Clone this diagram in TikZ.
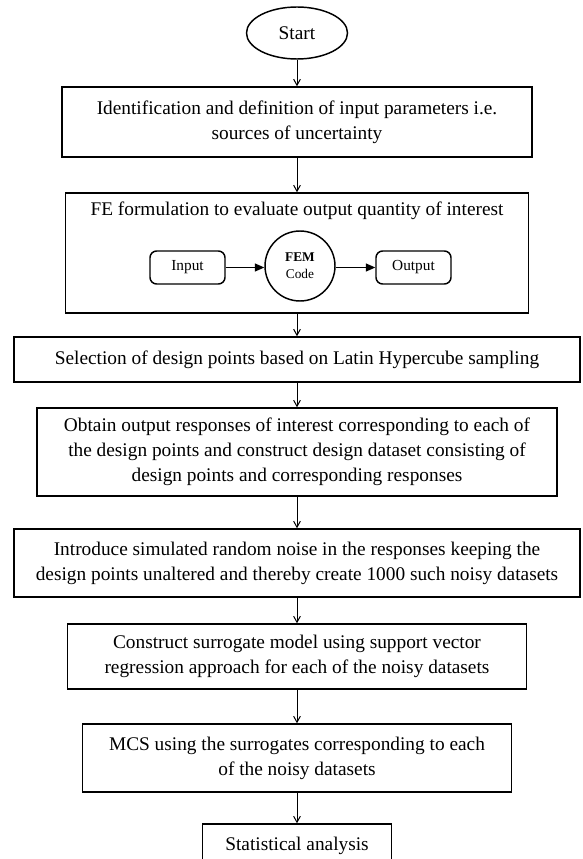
\documentclass[tikz,border=0pt]{standalone}
\usepackage{fontspec}
\setmainfont{Liberation Serif}
\usetikzlibrary{arrows.meta,shapes.geometric}

\tikzset{every picture/.style={line width=0.75pt}}
\newcommand\mainsize{\fontsize{14.5}{18.75}\selectfont}
\newcommand\innersize{\fontsize{11.5}{13}\selectfont}
\newcommand\femsize{\fontsize{10}{12.5}\selectfont}
\tikzset{
  stepbox/.style={draw, rectangle, line width=1.1pt, align=center, inner sep=0.75pt, font=\mainsize},
  startoval/.style={draw, ellipse, line width=1.1pt, inner sep=0.75pt, font=\mainsize},
  ioblock/.style={draw, rectangle, rounded corners=5pt, line width=1.1pt, inner sep=0.75pt, font=\innersize, minimum width=56.25pt, minimum height=24.75pt},
  femcircle/.style={draw, circle, line width=1.1pt, inner sep=0.75pt, align=center, font=\femsize, minimum size=52.5pt},
  flowarrow/.style={-{Straight Barb[length=4.5pt,width=5pt]}},
  innerarrow/.style={-{Triangle[length=7pt,width=6pt]}}
}

\begin{document}
\begin{tikzpicture}[x=0.75pt,y=0.75pt,yscale=-1,xscale=1]
		\useasboundingbox (0,0) rectangle (582,859);

		%Shape: Ellipse [id:start]
		\node [startoval, minimum width=75.75pt, minimum height=39pt] (start) at (297,33) {Start};
		%Shape: Rectangle [id:ident]
		\node [stepbox, minimum width=352.5pt, minimum height=52.5pt] (ident) at (297,122) {Identification and definition of input parameters i.e.\\sources of uncertainty};
		%Shape: Rectangle [id:fe]
		\node [stepbox, minimum width=347.25pt, minimum height=90pt] (fe) at (297,253) {};
		% Text Node
		\node [font=\mainsize, inner sep=0.75pt] (fetitle) at (297,211) {FE formulation to evaluate output quantity of interest};
		%Shape: Rounded Rect [id:input]
		\node [ioblock] (input) at (187.5,267.5) {Input};
		%Shape: Circle [id:fem]
		\node [femcircle] (fem) at (300,266) {\textbf{FEM}\\Code};
		%Shape: Rounded Rect [id:output]
		\node [ioblock] (output) at (413.5,267.5) {Output};
		%Shape: Rectangle [id:select]
		\node [stepbox, minimum width=424.5pt, minimum height=33.75pt] (select) at (297,359.5) {Selection of design points based on Latin Hypercube sampling};
		%Shape: Rectangle [id:obtain]
		\node [stepbox, minimum width=390pt, minimum height=66pt] (obtain) at (297,452) {Obtain output responses of interest corresponding to each of\\the design points and construct design dataset consisting of\\design points and corresponding responses};
		%Shape: Rectangle [id:noise]
		\node [stepbox, minimum width=424.5pt, minimum height=51pt] (noise) at (297,563) {Introduce simulated random noise in the responses keeping the\\design points unaltered and thereby create 1000 such noisy datasets};
		%Shape: Rectangle [id:surrogate]
		\node [stepbox, minimum width=344.25pt, minimum height=48.75pt] (surrogate) at (297,656.5) {Construct surrogate model using support vector\\regression approach for each of the noisy datasets};
		%Shape: Rectangle [id:mcs]
		\node [stepbox, minimum width=321.75pt, minimum height=51pt] (mcs) at (297,758) {MCS using the surrogates corresponding to each\\of the noisy datasets};
		%Shape: Rectangle [id:stats]
		\node [stepbox, minimum width=141.75pt, minimum height=33pt] (stats) at (297,846) {Statistical analysis};

		%Straight Lines
		\draw [flowarrow] (start) -- (ident);
		\draw [flowarrow] (ident) -- (fe);
		\draw [flowarrow] (fe) -- (select);
		\draw [flowarrow] (select) -- (obtain);
		\draw [flowarrow] (obtain) -- (noise);
		\draw [flowarrow] (noise) -- (surrogate);
		\draw [flowarrow] (surrogate) -- (mcs);
		\draw [flowarrow] (mcs) -- (stats);
		%Straight Lines
		\draw [innerarrow] (input) -- (input -| fem.west);
		\draw [innerarrow] (output -| fem.east) -- (output);

	\end{tikzpicture}
\end{document}
